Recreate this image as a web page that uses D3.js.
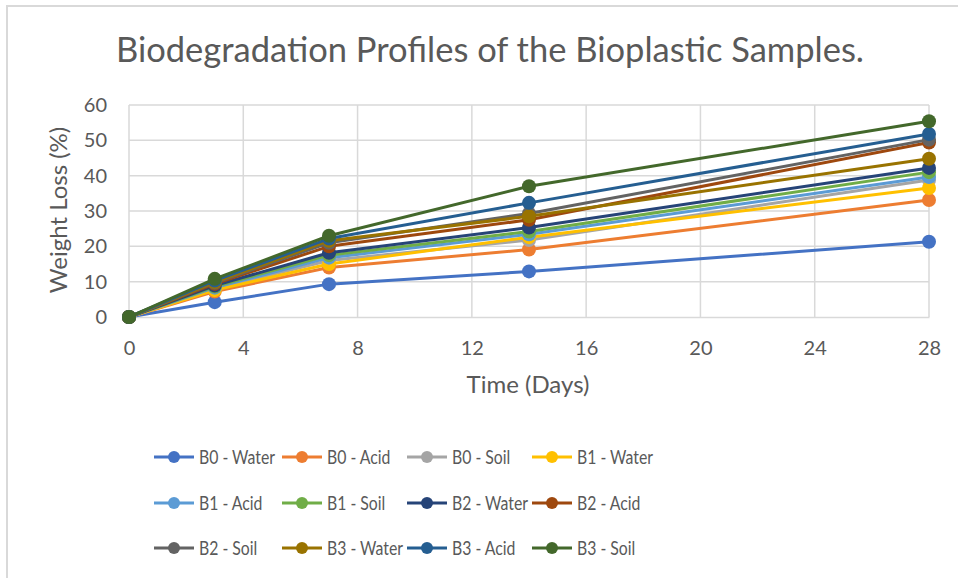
<!DOCTYPE html>
<html>
<head>
<meta charset="utf-8">
<script src="https://cdn.jsdelivr.net/npm/d3@7"></script>
<style>
  body { margin: 0; background: #fff; }
  svg { display: block; font-family: Lato, "Open Sans", sans-serif; }
</style>
</head>
<body>
<div id="chart"></div>
<script>
// Biodegradation line chart, Excel-style.
const days = [0, 3, 7, 14, 28];
const seriesNames = [
  'B0 - Water', 'B0 - Acid', 'B0 - Soil', 'B1 - Water',
  'B1 - Acid', 'B1 - Soil', 'B2 - Water', 'B2 - Acid',
  'B2 - Soil', 'B3 - Water', 'B3 - Acid', 'B3 - Soil'
];
const b0Water = [0, 4.2, 9.3, 12.9, 21.3];
const b0Acid = [0, 7.2, 14.0, 19.1, 33.1];
const b0Soil = [0, 8.0, 16.0, 21.8, 38.8];
const b1Water = [0, 7.6, 15.0, 22.6, 36.5];
const b1Acid = [0, 8.3, 16.8, 23.4, 39.6];
const b1Soil = [0, 8.6, 17.5, 24.2, 41.0];
const b2Water = [0, 8.9, 18.2, 25.3, 42.2];
const b2Acid = [0, 9.4, 20.0, 27.5, 49.4];
const b2Soil = [0, 9.7, 21.0, 29.3, 50.2];
const b3Water = [0, 9.9, 21.6, 28.5, 44.8];
const b3Acid = [0, 10.3, 22.2, 32.3, 51.8];
const b3Soil = [0, 10.8, 23.0, 37.0, 55.4];
const seriesValues = [b0Water, b0Acid, b0Soil, b1Water, b1Acid, b1Soil,
  b2Water, b2Acid, b2Soil, b3Water, b3Acid, b3Soil];
const xTicks = [0, 4, 8, 12, 16, 20, 24, 28];
const yTicks = [0, 10, 20, 30, 40, 50, 60];

const colors = ['#4472C4', '#ED7D31', '#A5A5A5', '#FFC000', '#5B9BD5', '#70AD47',
  '#264478', '#9E480E', '#636363', '#997300', '#255E91', '#43682B'];

const W = 958, H = 578;
const plot = { left: 129, right: 929, top: 105, bottom: 317 };
const textColor = '#595959';
const gridColor = '#d9d9d9';

const svg = d3.select('#chart').append('svg')
  .attr('width', W)
  .attr('height', H);

// chart area border (only top/left fall inside the picture)
svg.append('rect')
  .attr('x', 7).attr('y', 6)
  .attr('width', W + 10).attr('height', H + 10)
  .attr('fill', '#fff')
  .attr('stroke', gridColor)
  .attr('stroke-width', 2);

const x = d3.scaleLinear().domain([0, 28]).range([plot.left, plot.right]);
const y = d3.scaleLinear().domain([0, 60]).range([plot.bottom, plot.top]);

// gridlines
svg.append('g').selectAll('line.h').data(yTicks.slice(1)).join('line')
  .attr('x1', plot.left).attr('x2', plot.right)
  .attr('y1', d => y(d)).attr('y2', d => y(d))
  .attr('stroke', gridColor).attr('stroke-width', 1.5);
svg.append('g').selectAll('line.v').data(xTicks.slice(1)).join('line')
  .attr('x1', d => x(d)).attr('x2', d => x(d))
  .attr('y1', plot.top).attr('y2', plot.bottom)
  .attr('stroke', gridColor).attr('stroke-width', 1.5);

// axes
const xAxis = svg.append('g')
  .attr('transform', `translate(0,${plot.bottom})`)
  .call(d3.axisBottom(x).tickValues(xTicks).tickSize(0).tickPadding(24));
const yAxis = svg.append('g')
  .attr('transform', `translate(${plot.left},0)`)
  .call(d3.axisLeft(y).tickValues(yTicks).tickSize(0).tickPadding(22));

[xAxis, yAxis].forEach(a => {
  a.select('.domain').attr('stroke', gridColor).attr('stroke-width', 1.5);
  a.selectAll('text')
    .attr('fill', textColor)
    .style('font-size', '20px')
    .style('font-family', 'Lato, sans-serif');
});
yAxis.select('.domain').attr('d', `M0,${plot.bottom}V${plot.top}`);

// titles
svg.append('text')
  .attr('x', 490).attr('y', 62)
  .attr('text-anchor', 'middle')
  .attr('fill', textColor)
  .style('font-size', '34.5px')
  .text('Biodegradation Profiles of the Bioplastic Samples.');

svg.append('text')
  .attr('x', 528).attr('y', 393)
  .attr('text-anchor', 'middle')
  .attr('fill', textColor)
  .style('font-size', '24px')
  .text('Time (Days)');

svg.append('text')
  .attr('transform', 'translate(67,210) rotate(-90)')
  .attr('text-anchor', 'middle')
  .attr('fill', textColor)
  .style('font-size', '24px')
  .text('Weight Loss (%)');

// series
const line = d3.line()
  .x((d, i) => x(days[i]))
  .y(d => y(d));

seriesValues.forEach((vals, s) => {
  const g = svg.append('g');
  g.append('path')
    .attr('d', line(vals))
    .attr('fill', 'none')
    .attr('stroke', colors[s])
    .attr('stroke-width', 3)
    .attr('stroke-linejoin', 'round');
  g.selectAll('circle').data(vals).join('circle')
    .attr('cx', (d, i) => x(days[i]))
    .attr('cy', d => y(d))
    .attr('r', 7)
    .attr('fill', colors[s]);
});

// legend
const legCols = [154, 282, 407, 532];
const legRows = [457, 503, 548];
const legend = svg.append('g').selectAll('g').data(seriesNames).join('g')
  .attr('transform', (d, i) => `translate(${legCols[i % 4]},${legRows[Math.floor(i / 4)]})`);
legend.append('line')
  .attr('x1', 0).attr('x2', 40)
  .attr('stroke', (d, i) => colors[i])
  .attr('stroke-width', 3);
legend.append('circle')
  .attr('cx', 20).attr('r', 6)
  .attr('fill', (d, i) => colors[i]);
// Calibri is narrower than Lato, so squeeze the label horizontally
legend.append('text')
  .attr('transform', 'translate(45,0) scale(0.79,1)')
  .attr('dy', '0.35em')
  .attr('fill', textColor)
  .style('font-size', '20px')
  .text(d => d);
</script>
</body>
</html>
